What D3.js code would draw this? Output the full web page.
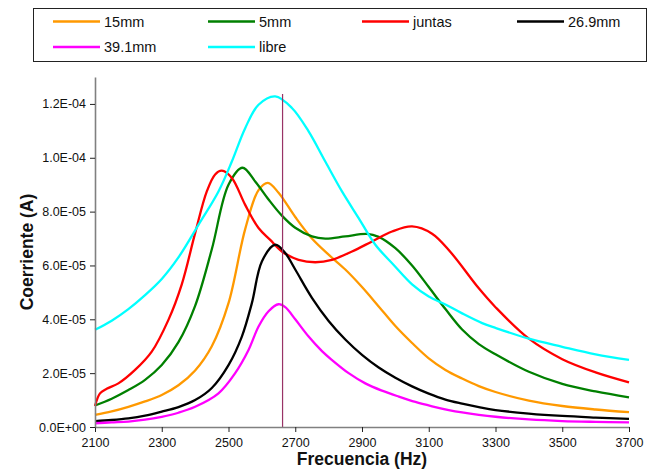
<!DOCTYPE html>
<html>

<head>
  <meta charset="utf8">
  <script src="https://d3js.org/d3.v7.min.js"></script>
  <style>
    body {
      margin: 0;
      background: #fff;
    }

    svg text {
      font-family: "Liberation Sans", Arial, sans-serif;
      fill: #111;
    }

    .line {
      fill: none;
      stroke-width: 2.3;
      stroke-linejoin: round;
    }

    .axis path {
      stroke: #808080;
      stroke-width: 1.6;
    }

    .axis line {
      stroke: #222;
    }

    .axis text {
      font-size: 12.5px;
    }

    .title {
      font-size: 17.5px;
      font-weight: bold;
    }

    .legend text {
      font-size: 14.5px;
    }
  </style>
</head>

<body>
  <svg id="chart" width="654" height="470"></svg>

  <script>
    // values in units of 1e-5 A, as [frecuencia Hz, corriente]
    var UNIT = 1e-5;

    var names = ['15mm', '5mm', 'juntas', '26.9mm', '39.1mm', 'libre'];
    var colors = ['#FF9900', '#008000', '#FF0000', '#000000', '#FF00FF', '#00FFFF'];

    var s15mm = [
      [2100, 0.45], [2150, 0.58], [2200, 0.75], [2250, 0.95], [2300, 1.19], [2350, 1.55],
      [2400, 2.1], [2450, 3.0], [2500, 4.6], [2550, 7.35], [2590, 8.8], [2618, 9.07],
      [2650, 8.7], [2700, 7.8], [2750, 7.0], [2800, 6.4], [2850, 5.85], [2900, 5.2],
      [2950, 4.48], [3000, 3.75], [3050, 3.12], [3100, 2.55], [3150, 2.12], [3200, 1.8],
      [3250, 1.52], [3300, 1.3], [3400, 0.98], [3500, 0.78], [3600, 0.65], [3700, 0.55]
    ];

    var s5mm = [
      [2100, 0.8], [2150, 1.05], [2200, 1.37], [2250, 1.75], [2300, 2.3], [2350, 3.15],
      [2400, 4.5], [2450, 6.6], [2500, 9.0], [2542, 9.63], [2580, 9.12], [2620, 8.45],
      [2660, 7.85], [2700, 7.4], [2750, 7.08], [2790, 7.0], [2850, 7.08], [2915, 7.17],
      [2950, 7.06], [3000, 6.64], [3050, 6.0], [3100, 5.2], [3150, 4.38], [3200, 3.62],
      [3250, 3.08], [3300, 2.7], [3400, 2.05], [3500, 1.6], [3600, 1.32], [3700, 1.1]
    ];

    var sJuntas = [
      [2100, 0.78], [2115, 1.25], [2135, 1.42], [2170, 1.62], [2220, 2.12], [2270, 2.8],
      [2320, 3.98], [2360, 5.3], [2400, 7.2], [2435, 8.75], [2460, 9.38], [2480, 9.52],
      [2510, 9.25], [2550, 8.25], [2590, 7.39], [2625, 6.95], [2660, 6.52], [2710, 6.21],
      [2760, 6.12], [2810, 6.21], [2870, 6.52], [2930, 6.89], [2990, 7.26], [3050, 7.45],
      [3110, 7.18], [3165, 6.5], [3250, 5.15], [3300, 4.45], [3400, 3.28], [3500, 2.52],
      [3600, 2.03], [3700, 1.66]
    ];

    var s26mm = [
      [2100, 0.22], [2150, 0.26], [2200, 0.32], [2250, 0.42], [2300, 0.57], [2350, 0.74],
      [2400, 1.0], [2450, 1.45], [2500, 2.3], [2540, 3.36], [2570, 4.6], [2600, 6.15],
      [2640, 6.77], [2670, 6.46], [2700, 5.85], [2750, 4.8], [2800, 3.94], [2850, 3.25],
      [2900, 2.68], [2950, 2.21], [3000, 1.83], [3050, 1.51], [3100, 1.24], [3150, 1.02],
      [3200, 0.87], [3250, 0.74], [3300, 0.63], [3400, 0.5], [3500, 0.41], [3600, 0.35],
      [3700, 0.30]
    ];

    var s39mm = [
      [2100, 0.14], [2150, 0.17], [2200, 0.2], [2250, 0.27], [2300, 0.38], [2350, 0.53],
      [2400, 0.75], [2470, 1.25], [2520, 2.0], [2560, 2.86], [2590, 3.73], [2620, 4.3],
      [2650, 4.56], [2670, 4.45], [2700, 4.0], [2740, 3.36], [2780, 2.82], [2810, 2.49],
      [2860, 2.0], [2910, 1.62], [2960, 1.35], [3010, 1.13], [3060, 0.93], [3110, 0.77],
      [3160, 0.63], [3200, 0.54], [3250, 0.45], [3300, 0.38], [3400, 0.28], [3500, 0.22],
      [3600, 0.19], [3700, 0.17]
    ];

    var sLibre = [
      [2100, 3.61], [2150, 3.95], [2200, 4.38], [2250, 4.9], [2300, 5.5], [2350, 6.3],
      [2410, 7.51], [2470, 8.75], [2510, 9.86], [2550, 11.1], [2590, 11.97], [2640, 12.28],
      [2690, 11.85], [2740, 10.98], [2790, 9.86], [2840, 8.75], [2890, 7.76], [2940, 6.77],
      [2995, 6.02], [3050, 5.3], [3100, 4.85], [3150, 4.55], [3200, 4.22], [3260, 3.86],
      [3300, 3.68], [3400, 3.28], [3500, 2.98], [3600, 2.7], [3700, 2.49]
    ];

    var series = [s15mm, s5mm, sJuntas, s26mm, s39mm, sLibre];

    var xTicks = [2100, 2300, 2500, 2700, 2900, 3100, 3300, 3500, 3700];
    var yTicks = [0, 2, 4, 6, 8, 10, 12];

    // vertical marker line
    var markerFreq = 2662;
    var markerTop = 12.37;

    var chart = d3.select('#chart');
    var margin = { top: 77, right: 25, bottom: 43, left: 95 };
    var width = chart.attr('width') - margin.left - margin.right;
    var height = chart.attr('height') - margin.top - margin.bottom;

    var x = d3.scaleLinear()
      .domain([2100, 3700])
      .range([0, width]);

    var y = d3.scaleLinear()
      .domain([0, 13 * UNIT])
      .range([height, 0]);

    function sciFormat(v) {
      var parts = v.toExponential(1).split('e');
      var e = +parts[1];
      return parts[0] + 'E' + (e < 0 ? '-' : '+') + String(Math.abs(e)).padStart(2, '0');
    }

    var group = chart.append('g')
      .attr('transform', 'translate(' + margin.left + ', ' + margin.top + ')');

    // curves
    var line = d3.line()
      .x((d) => x(d[0]))
      .y((d) => y(d[1] * UNIT))
      .curve(d3.curveCatmullRom.alpha(0.5));

    group.selectAll('.line')
      .data(series)
      .enter()
      .append('path')
      .attr('class', 'line')
      .attr('stroke', (d, i) => colors[i])
      .attr('d', line);

    // marker
    group.append('line')
      .attr('x1', x(markerFreq))
      .attr('x2', x(markerFreq))
      .attr('y1', y(0))
      .attr('y2', y(markerTop * UNIT))
      .attr('stroke', '#993366')
      .attr('stroke-width', 1.2);

    // axes
    group.append('g')
      .attr('class', 'axis x-axis')
      .attr('transform', 'translate(0, ' + height + ')')
      .call(d3.axisBottom(x).tickValues(xTicks).tickFormat(d3.format('d')).tickSizeInner(5).tickSizeOuter(0).tickPadding(6));

    group.append('g')
      .attr('class', 'axis y-axis')
      .call(d3.axisLeft(y).tickValues(yTicks.map((v) => v * UNIT)).tickFormat(sciFormat).tickSizeInner(5).tickSizeOuter(0).tickPadding(4));

    group.append('text')
      .attr('class', 'title')
      .attr('x', width / 2)
      .attr('y', height + 38)
      .attr('text-anchor', 'middle')
      .text('Frecuencia (Hz)');

    group.append('text')
      .attr('class', 'title')
      .attr('transform', 'rotate(-90)')
      .attr('x', -height / 2)
      .attr('y', -62)
      .attr('text-anchor', 'middle')
      .text('Coerriente (A)');

    // legend
    var legend = chart.append('g').attr('class', 'legend');

    legend.append('rect')
      .attr('x', 33.5)
      .attr('y', 8.5)
      .attr('width', 613)
      .attr('height', 53)
      .attr('fill', '#fff')
      .attr('stroke', '#222')
      .attr('stroke-width', 1);

    var colX = [53, 208, 362, 517];
    var rowY = [21.5, 47];

    var items = legend.selectAll('.item')
      .data(names)
      .enter()
      .append('g')
      .attr('class', 'item')
      .attr('transform', (d, i) => 'translate(' + colX[i % 4] + ', ' + rowY[Math.floor(i / 4)] + ')');

    items.append('line')
      .attr('x1', 0)
      .attr('x2', 47)
      .attr('stroke', (d, i) => colors[i])
      .attr('stroke-width', 2.5);

    items.append('text')
      .attr('x', 51)
      .attr('dy', '0.35em')
      .text((d) => d);
  </script>
</body>

</html>
